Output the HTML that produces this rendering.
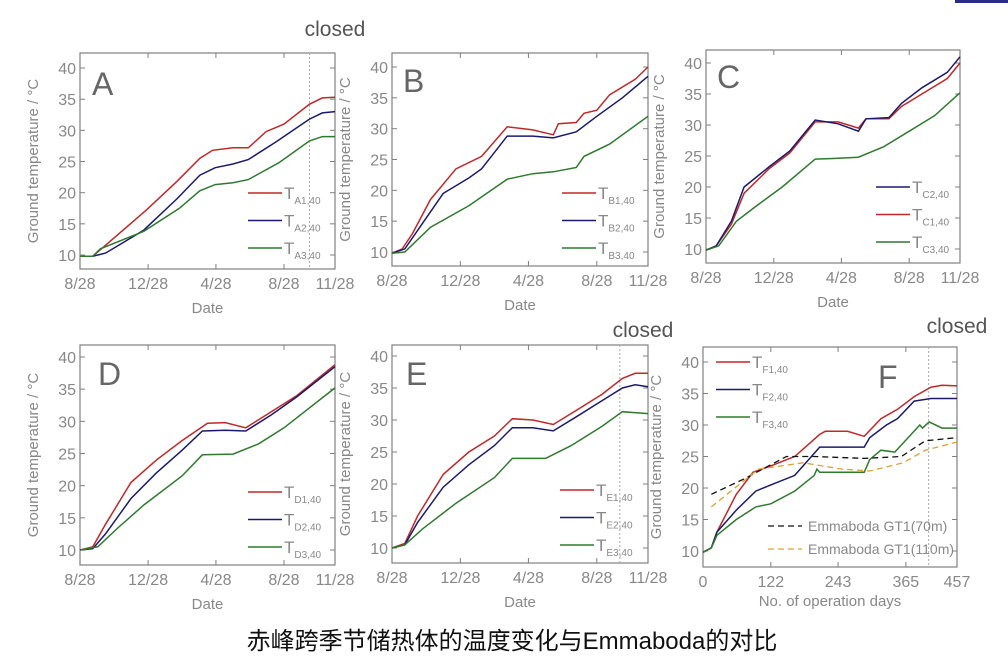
<!DOCTYPE html>
<html><head><meta charset="utf-8">
<style>
html,body{margin:0;padding:0;background:#fff;}
svg{display:block;font-family:"Liberation Sans","Noto Sans CJK SC",sans-serif;}
</style></head>
<body>
<svg id="s" width="1008" height="664" viewBox="0 0 1008 664" xmlns="http://www.w3.org/2000/svg">
<rect x="955" y="0" width="53" height="3" fill="#2a2a8a"/>
<text x="512" y="649" font-size="24" text-anchor="middle" fill="#111" font-family="'Liberation Sans','Noto Sans CJK SC',sans-serif">赤峰跨季节储热体的温度变化与Emmaboda的对比</text>
</svg>
<script>
const S=document.getElementById('s');const NS='http://www.w3.org/2000/svg';
function el(t,a,txt){const e=document.createElementNS(NS,t);for(const k in a)e.setAttribute(k,a[k]);if(txt!==undefined)e.textContent=txt;S.appendChild(e);return e;}
const R='#c0282a',B='#1a1a70',G='#2f7a2f',GR='#808080';
const P=[
{n:'A',x0:80,x1:335,yt:53,yb:269,y40:68,y10:255,lx:92,ly:95,leg:[248,193],sub:['A1,40','A2,40','A3,40'],cl:0.9,closed:[335,36],
s:[[R,[[0,9.8],[.05,9.8],[.07,10.5],[.26,17.2],[.38,21.8],[.47,25.5],[.52,26.8],[.6,27.2],[.66,27.2],[.73,29.8],[.8,31],[.9,34.2],[.95,35.2],[1,35.3]]],
[B,[[0,9.8],[.05,9.8],[.1,10.3],[.17,12],[.25,14],[.38,19],[.47,22.8],[.53,24],[.6,24.6],[.66,25.3],[.77,28.2],[.9,31.8],[.95,32.8],[1,33]]],
[G,[[0,9.8],[.05,9.8],[.08,11],[.25,13.8],[.39,17.5],[.47,20.3],[.53,21.3],[.6,21.6],[.66,22.1],[.78,24.8],[.9,28.3],[.95,29],[1,29]]]]},
{n:'B',x0:392,x1:648,yt:53,yb:266,y40:67,y10:252,lx:403,ly:92,leg:[562,193],sub:['B1,40','B2,40','B3,40'],
s:[[R,[[0,9.8],[.04,10.5],[.08,13],[.15,18.5],[.25,23.5],[.35,25.5],[.45,30.3],[.55,29.8],[.63,29],[.65,30.8],[.72,31],[.75,32.5],[.8,33],[.85,35.5],[.95,38],[1,40]]],
[B,[[0,9.8],[.05,10.5],[.1,13.5],[.2,19.5],[.3,22],[.35,23.5],[.45,28.8],[.55,28.8],[.63,28.5],[.72,29.5],[.8,32],[.9,35],[1,38.5]]],
[G,[[0,9.8],[.05,10],[.15,14],[.3,17.5],[.45,21.8],[.55,22.7],[.63,23],[.72,23.7],[.75,25.5],[.85,27.5],[1,32]]]]},
{n:'C',x0:706,x1:960,yt:50,yb:263,y40:63,y10:249,lx:717,ly:88,leg:[876,187],sub:['C2,40','C1,40','C3,40'],cols:[B,R,G],
s:[[R,[[0,9.8],[.04,10.5],[.1,14],[.15,19],[.25,23],[.33,25.5],[.43,30.5],[.52,30.5],[.6,29.5],[.63,31],[.72,31],[.77,33],[.85,35],[.95,37.5],[1,40]]],
[B,[[0,9.8],[.04,10.5],[.1,14.5],[.15,20],[.25,23.3],[.33,25.8],[.43,30.8],[.52,30.2],[.6,29],[.63,31],[.72,31.2],[.77,33.5],[.85,36],[.95,38.5],[1,41]]],
[G,[[0,9.8],[.05,10.5],[.12,14.5],[.2,17],[.3,20],[.43,24.5],[.5,24.6],[.6,24.8],[.7,26.5],[.8,29],[.9,31.5],[1,35.2]]]]},
{n:'D',x0:80,x1:335,yt:345,yb:565,y40:357,y10:550,lx:98,ly:385,leg:[248,492],sub:['D1,40','D2,40','D3,40'],
s:[[R,[[0,10],[.05,10.5],[.1,14],[.2,20.5],[.3,24],[.4,27],[.5,29.7],[.57,29.8],[.65,29],[.75,31.5],[.85,34],[1,38.8]]],
[B,[[0,10],[.05,10.2],[.1,12.5],[.2,18],[.3,22],[.4,25.5],[.48,28.5],[.57,28.6],[.65,28.5],[.75,31],[.85,33.8],[1,38.5]]],
[G,[[0,10],[.07,10.5],[.15,13.5],[.25,17],[.4,21.5],[.48,24.8],[.6,24.9],[.7,26.5],[.8,29],[1,35.2]]]]},
{n:'E',x0:392,x1:648,yt:345,yb:563,y40:356,y10:548,lx:406,ly:385,leg:[560,490],sub:['E1,40','E2,40','E3,40'],cl:0.89,closed:[643,337],
s:[[R,[[0,10],[.05,10.7],[.1,15],[.2,21.5],[.3,25],[.4,27.5],[.47,30.2],[.55,30],[.63,29.3],[.72,31.5],[.82,34],[.9,36.5],[.95,37.3],[1,37.3]]],
[B,[[0,10],[.05,10.5],[.1,14],[.2,19.5],[.3,23],[.4,26],[.47,28.8],[.55,28.8],[.63,28.3],[.72,30.5],[.82,33],[.9,35],[.95,35.5],[1,35.2]]],
[G,[[0,10],[.05,10.5],[.12,13],[.25,17],[.4,21],[.47,24],[.6,24],[.7,26],[.82,29],[.9,31.3],[1,31]]]]},
{n:'F',x0:703,x1:957,yt:347,yb:567,y40:362,y10:551,lx:878,ly:388,leg:[716,362],sub:['F1,40','F2,40','F3,40'],cl:406/457,closed:[957,333],days:1,
s:[[R,[[0,9.8],[15,10.5],[25,13],[60,19],[90,22.5],[122,23.5],[165,25],[210,28.5],[220,29],[260,29],[290,28.2],[320,31],[350,32.5],[380,34.5],[410,36],[430,36.3],[457,36.2]]],
[B,[[0,9.8],[15,10.5],[25,13],[60,16.5],[95,19.5],[122,20.5],[165,22],[200,25.5],[210,26.5],[290,26.5],[300,28],[330,30],[350,31],[380,33.8],[410,34.2],[457,34.2]]],
[G,[[0,9.8],[15,10.5],[25,12.5],[60,15],[95,17],[122,17.5],[165,19.5],[200,22],[205,23],[210,22.5],[290,22.5],[300,24.5],[320,26],[345,25.7],[390,30],[395,29.5],[407,30.5],[430,29.5],[457,29.5]]],
['#111',[[15,19],[75,21.5],[150,25],[200,25],[290,24.7],[357,25],[400,27.5],[457,28]],'6,4'],
['#e0a030',[[15,17],[100,23],[180,24],[250,23],[300,22.7],[360,24],[400,26],[457,27.3]],'6,4']]}
];
for(const p of P){
 const X=f=>p.x0+(p.days?f/457:f)*(p.x1-p.x0);
 const Y=t=>p.y10+(t-10)*(p.y40-p.y10)/30;
 el('rect',{x:p.x0,y:p.yt,width:p.x1-p.x0,height:p.yb-p.yt,fill:'none',stroke:GR,'stroke-width':1.2});
 for(let t=10;t<=40;t+=5){const y=Y(t);
  el('line',{x1:p.x0,x2:p.x0+5,y1:y,y2:y,stroke:GR});el('line',{x1:p.x1,x2:p.x1-5,y1:y,y2:y,stroke:GR});
  el('text',{x:p.x0-4,y:y+6,'font-size':16,'text-anchor':'end',fill:'#888'},t);}
 const xl=p.days?['0','122','243','365','457']:['8/28','12/28','4/28','8/28','11/28'];
 const xf=p.days?[0,122,243,365,457]:[0,.267,.533,.8,1];
 xl.forEach((l,i)=>{const x=X(xf[i]);el('line',{x1:x,x2:x,y1:p.yb,y2:p.yb-5,stroke:GR});el('line',{x1:x,x2:x,y1:p.yt,y2:p.yt+5,stroke:GR});
  el('text',{x:x,y:p.yb+20,'font-size':16,'text-anchor':'middle',fill:'#888'},l);});
 if(p.days) el('text',{x:(p.x0+p.x1)/2,y:p.yb+39,'font-size':15,'text-anchor':'middle',fill:'#888'},'No. of operation days');
 else el('text',{x:(p.x0+p.x1)/2,y:p.yb+44,'font-size':15,'text-anchor':'middle',fill:'#888'},'Date');
 const ax=p.x0-42,ay=(p.yt+p.yb)/2;
 el('text',{x:ax,y:ay,'font-size':15,'text-anchor':'middle',fill:'#888',transform:`rotate(-90 ${ax} ${ay})`},'Ground temperature / °C');
 el('text',{x:p.lx,y:p.ly,'font-size':32,fill:'#666'},p.n);
 if(p.cl!==undefined){const x=p.x0+p.cl*(p.x1-p.x0);el('line',{x1:x,x2:x,y1:p.yt,y2:p.yb,stroke:'#aaa','stroke-dasharray':'2,2'});}
 if(p.closed) el('text',{x:p.closed[0],y:p.closed[1],'font-size':21,'text-anchor':'middle',fill:'#555'},'closed');
 for(const [c,pts,d] of p.s){
  const a={points:pts.map(q=>X(q[0]).toFixed(1)+','+Y(q[1]).toFixed(1)).join(' '),fill:'none',stroke:c,'stroke-width':d?1.3:1.5};
  if(d)a['stroke-dasharray']=d;el('polyline',a);}
 const cols=p.cols||[R,B,G];
 for(let i=0;i<3;i++){const y=p.leg[1]+i*27.5;
  el('line',{x1:p.leg[0],x2:p.leg[0]+34,y1:y,y2:y,stroke:cols[i],'stroke-width':1.5});
  const t=el('text',{x:p.leg[0]+36,y:y+6,'font-size':17,fill:'#888'},'T');
  const ts=document.createElementNS(NS,'tspan');ts.setAttribute('font-size',10);ts.setAttribute('dy',5);ts.textContent=p.sub[i];t.appendChild(ts);}
 if(p.days){
  el('line',{x1:768,x2:802,y1:526,y2:526,stroke:'#111','stroke-dasharray':'6,4','stroke-width':1.3});
  el('text',{x:808,y:531,'font-size':14,fill:'#888'},'Emmaboda GT1(70m)');
  el('line',{x1:768,x2:802,y1:549,y2:549,stroke:'#e0a030','stroke-dasharray':'6,4','stroke-width':1.3});
  el('text',{x:808,y:554,'font-size':14,fill:'#888'},'Emmaboda GT1(110m)');
 }
}
</script>
</body></html>
